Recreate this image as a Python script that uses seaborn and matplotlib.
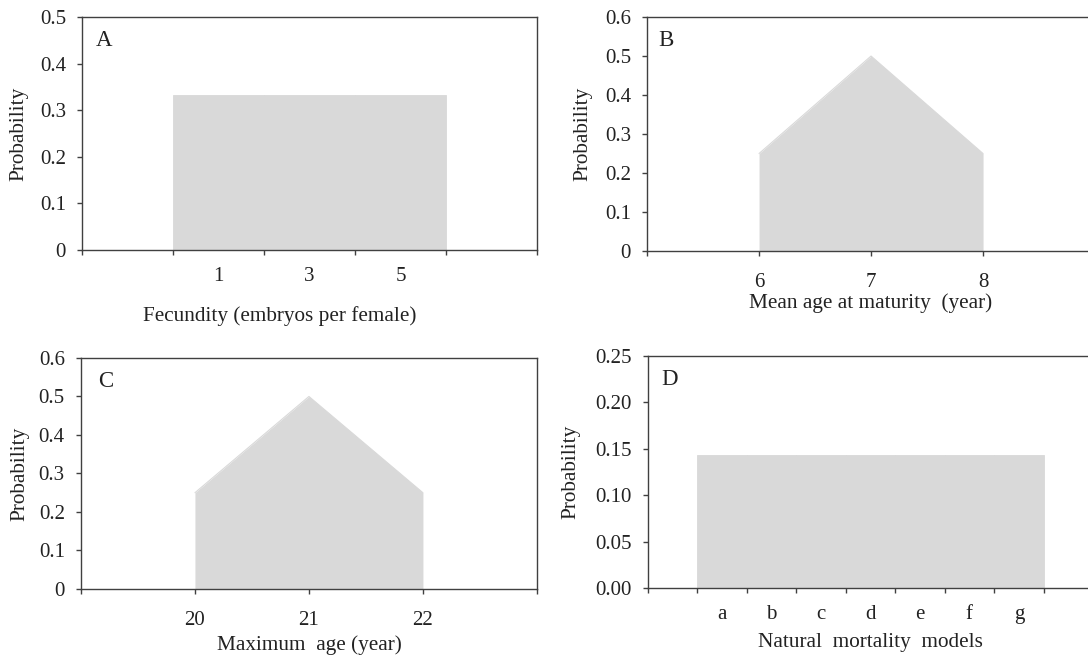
"""
Probability distributions of life-history parameters (panels A-D).
"""

import matplotlib
matplotlib.use("Agg")
import matplotlib.pyplot as plt
import numpy as np
import pandas as pd
import seaborn as sns
from matplotlib.ticker import FuncFormatter, NullFormatter

# Panel A: fecundity (embryos per female)
fecundity = ["1", "3", "5"]
fecundity_prob = [0.333, 0.333, 0.333]

# Panel B: mean age at maturity (year)
maturity_age = [6, 7, 8]
maturity_prob = [0.25, 0.50, 0.25]

# Panel C: maximum age (year)
max_age = [20, 21, 22]
max_age_prob = [0.25, 0.50, 0.25]

# Panel D: natural mortality models
mortality_models = ["a", "b", "c", "d", "e", "f", "g"]
mortality_prob = [0.143, 0.143, 0.143, 0.143, 0.143, 0.143, 0.143]

FILL = "#d9d9d9"
AXIS = "#404040"
TEXT = "#222222"
TICK_FS = 15
LABEL_FS = 15.3


def style_axes(ax, ymax, ystep, yfmt):
    """Box frame, outward ticks, Excel-like look."""
    for sp in ax.spines.values():
        sp.set_visible(True)
        sp.set_color(AXIS)
        sp.set_linewidth(1.0)
    ax.set_ylim(0, ymax)
    ax.set_yticks(np.arange(0, ymax + ystep / 2, ystep))
    ax.yaxis.set_major_formatter(FuncFormatter(yfmt))
    ax.tick_params(axis="both", which="major", direction="out", length=3.6,
                   width=1.0, color=AXIS, labelsize=TICK_FS, labelcolor=TEXT)
    ax.tick_params(axis="y", pad=8)
    ax.tick_params(axis="x", pad=12.5)
    ax.tick_params(axis="x", which="minor", length=0, labelsize=TICK_FS,
                   labelcolor=TEXT, pad=12.5)
    ax.grid(False)


def one_dec(v, _):
    return "0" if abs(v) < 1e-9 else f"{v:.1f}"


def two_dec(v, _):
    return f"{v:.2f}"


def category_panel(ax, labels, probs):
    """Adjacent bars between tick marks, labels centred in each slot."""
    df = pd.DataFrame({"cat": labels, "p": probs})
    sns.barplot(data=df, x="cat", y="p", ax=ax, color=FILL, saturation=1,
                width=1, edgecolor=FILL, linewidth=0.6, errorbar=None)
    n = len(labels)
    ax.set_xlim(-1.5, n + 0.5)
    ax.set_xticks(np.arange(-1.5, n + 0.6, 1))
    ax.xaxis.set_major_formatter(NullFormatter())
    ax.set_xticks(np.arange(n), labels=labels, minor=True)


def peak_panel(ax, xs, probs):
    """Filled triangular distribution."""
    sns.lineplot(x=xs, y=probs, ax=ax, color=FILL, linewidth=0.8)
    ax.fill_between(xs, probs, color=FILL, linewidth=0)
    ax.set_xlim(xs[0] - 1, xs[-1] + 1)
    ticks = list(range(xs[0] - 1, xs[-1] + 2))
    ax.set_xticks(ticks, labels=[""] + [str(v) for v in xs] + [""])


def main():
    sns.set_theme(style="ticks")
    plt.rcParams["font.family"] = ["Liberation Serif", "DejaVu Serif"]

    fig = plt.figure(figsize=(10.88, 6.58), dpi=100)
    ax_a = fig.add_axes([0.0754, 0.6201, 0.4182, 0.3541])
    ax_b = fig.add_axes([0.5947, 0.6185, 0.4118, 0.3556])
    ax_c = fig.add_axes([0.0744, 0.1049, 0.4191, 0.3511])
    ax_d = fig.add_axes([0.5956, 0.1064, 0.4090, 0.3526])

    category_panel(ax_a, fecundity, fecundity_prob)
    style_axes(ax_a, 0.5, 0.1, one_dec)
    ax_a.set_xlabel("Fecundity (embryos per female)", fontsize=LABEL_FS,
                    color=TEXT)
    ax_a.xaxis.set_label_coords(0.435, -0.24)
    ax_a.set_ylabel("Probability", fontsize=LABEL_FS, color=TEXT)
    ax_a.yaxis.set_label_coords(-0.117, 0.5)

    peak_panel(ax_b, maturity_age, maturity_prob)
    style_axes(ax_b, 0.6, 0.1, one_dec)
    ax_b.set_xlabel("Mean age at maturity  (year)", fontsize=LABEL_FS,
                    color=TEXT)
    ax_b.xaxis.set_label_coords(0.5, -0.18)
    ax_b.set_ylabel("Probability", fontsize=LABEL_FS, color=TEXT)
    ax_b.yaxis.set_label_coords(-0.122, 0.5)

    peak_panel(ax_c, max_age, max_age_prob)
    style_axes(ax_c, 0.6, 0.1, one_dec)
    ax_c.set_xlabel("Maximum  age (year)", fontsize=LABEL_FS, color=TEXT)
    ax_c.xaxis.set_label_coords(0.5, -0.2)
    ax_c.set_ylabel("Probability", fontsize=LABEL_FS, color=TEXT)
    ax_c.yaxis.set_label_coords(-0.114, 0.5)

    category_panel(ax_d, mortality_models, mortality_prob)
    style_axes(ax_d, 0.25, 0.05, two_dec)
    ax_d.set_xlabel("Natural  mortality  models", fontsize=LABEL_FS,
                    color=TEXT)
    ax_d.xaxis.set_label_coords(0.5, -0.195)
    ax_d.set_ylabel("Probability", fontsize=LABEL_FS, color=TEXT)
    ax_d.yaxis.set_label_coords(-0.152, 0.5)

    for ax, letter, x in [(ax_a, "A", 0.031), (ax_b, "B", 0.025),
                          (ax_c, "C", 0.038), (ax_d, "D", 0.03)]:
        ax.text(x, 0.945, letter, transform=ax.transAxes, fontsize=16.5,
                ha="left", va="top", color=TEXT)

    fig.savefig("out.png", dpi=100)
    plt.close(fig)


if __name__ == "__main__":
    main()
